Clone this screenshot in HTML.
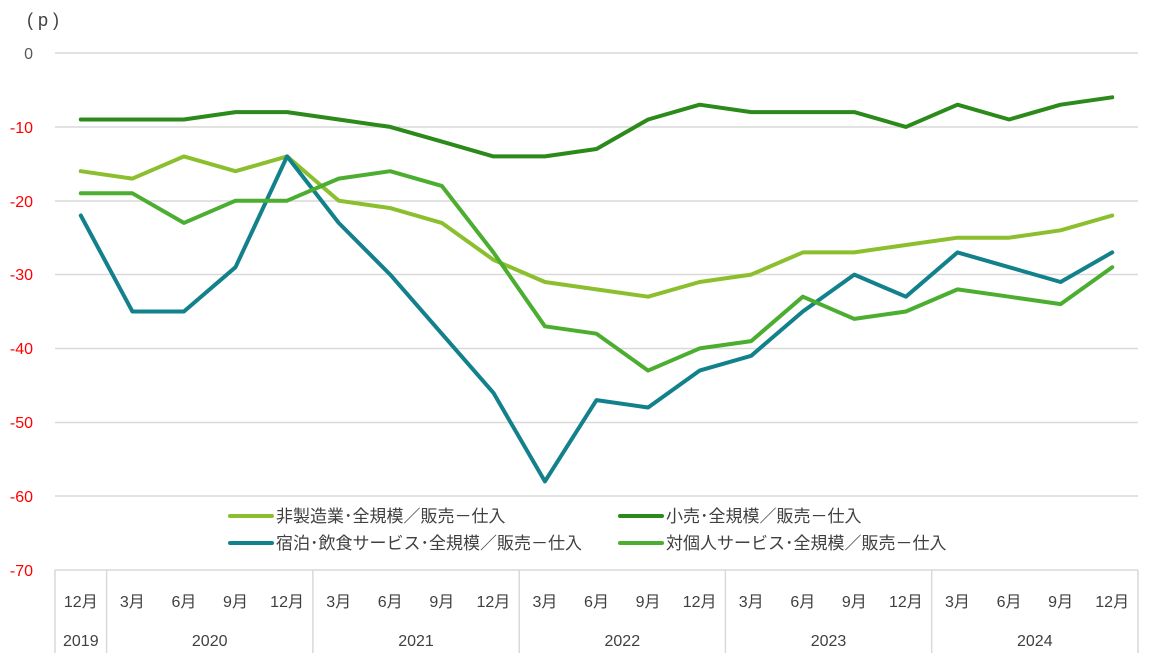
<!DOCTYPE html>
<html><head><meta charset="utf-8"><style>
body{margin:0;background:#fff;}
svg{display:block;font-family:"Liberation Sans","Noto Sans CJK JP",sans-serif;}
</style></head><body>
<svg id="s" width="1159" height="653" viewBox="0 0 1159 653" xmlns="http://www.w3.org/2000/svg">
<rect width="1159" height="653" fill="#fff"/>
<text x="27" y="26" font-size="18" fill="#404040">( p )</text>
<g stroke="#d9d9d9" stroke-width="1.5">
<line x1="55" x2="1138" y1="53" y2="53"/>
<line x1="55" x2="1138" y1="127" y2="127"/>
<line x1="55" x2="1138" y1="201" y2="201"/>
<line x1="55" x2="1138" y1="274.5" y2="274.5"/>
<line x1="55" x2="1138" y1="348.5" y2="348.5"/>
<line x1="55" x2="1138" y1="422.5" y2="422.5"/>
<line x1="55" x2="1138" y1="496" y2="496"/>
<line x1="55" x2="1138" y1="570" y2="570"/>
<line x1="55" x2="55" y1="570" y2="653"/>
<line x1="106.6" x2="106.6" y1="570" y2="653"/>
<line x1="312.9" x2="312.9" y1="570" y2="653"/>
<line x1="519.2" x2="519.2" y1="570" y2="653"/>
<line x1="725.4" x2="725.4" y1="570" y2="653"/>
<line x1="931.7" x2="931.7" y1="570" y2="653"/>
<line x1="1138" x2="1138" y1="570" y2="653"/>
</g>
<g font-size="16" text-anchor="end">
<text x="33" y="59" fill="#595959">0</text>
<text x="33" y="133" fill="#f00">-10</text>
<text x="33" y="207" fill="#f00">-20</text>
<text x="33" y="280" fill="#f00">-30</text>
<text x="33" y="354" fill="#f00">-40</text>
<text x="33" y="428" fill="#f00">-50</text>
<text x="33" y="502" fill="#f00">-60</text>
<text x="33" y="576" fill="#f00">-70</text>
</g>
<g id="months" font-size="16" fill="#404040" text-anchor="middle"></g>
<g font-size="16" fill="#404040" text-anchor="middle">
<text x="80.8" y="646">2019</text>
<text x="209.7" y="646">2020</text>
<text x="416" y="646">2021</text>
<text x="622.3" y="646">2022</text>
<text x="828.5" y="646">2023</text>
<text x="1034.8" y="646">2024</text>
</g>
<g id="lines" fill="none" stroke-width="4" stroke-linejoin="round" stroke-linecap="round"></g>
<rect x="222" y="500" width="735" height="62" fill="#fff"/>
<g stroke-width="4" stroke-linecap="round">
<line x1="230" x2="272" y1="516" y2="516" stroke="#8cbf2e"/>
<line x1="230" x2="272" y1="543" y2="543" stroke="#12818c"/>
<line x1="620" x2="662" y1="516" y2="516" stroke="#2b8a1a"/>
<line x1="620" x2="662" y1="543" y2="543" stroke="#4cae30"/>
</g>
<g font-size="17" fill="#404040">
<text x="276" y="522">非製造業･全規模／販売－仕入</text>
<text x="276" y="549">宿泊･飲食サービス･全規模／販売－仕入</text>
<text x="666" y="522">小売･全規模／販売－仕入</text>
<text x="666" y="549">対個人サービス･全規模／販売－仕入</text>
</g>
</svg>
<script>
const X=i=>80.8+51.57*i, Y=v=>53-v*7.386;
const m=document.getElementById('months');
for(let i=0;i<21;i++){const t=document.createElementNS('http://www.w3.org/2000/svg','text');t.setAttribute('x',X(i));t.setAttribute('y',607);t.textContent=i==0?'12月':['3月','6月','9月','12月'][(i-1)%4];m.appendChild(t);}
const S=[
['#8cbf2e',[-16,-17,-14,-16,-14,-20,-21,-23,-28,-31,-32,-33,-31,-30,-27,-27,-26,-25,-25,-24,-22]],
['#2b8a1a',[-9,-9,-9,-8,-8,-9,-10,-12,-14,-14,-13,-9,-7,-8,-8,-8,-10,-7,-9,-7,-6]],
['#12818c',[-22,-35,-35,-29,-14,-23,-30,-38,-46,-58,-47,-48,-43,-41,-35,-30,-33,-27,-29,-31,-27]],
['#4cae30',[-19,-19,-23,-20,-20,-17,-16,-18,-27,-37,-38,-43,-40,-39,-33,-36,-35,-32,-33,-34,-29]]];
const g=document.getElementById('lines');
S.forEach(([c,d])=>{const p=document.createElementNS('http://www.w3.org/2000/svg','polyline');p.setAttribute('stroke',c);p.setAttribute('points',d.map((v,i)=>X(i).toFixed(1)+','+Y(v).toFixed(1)).join(' '));g.appendChild(p);});
</script>
</body></html>
